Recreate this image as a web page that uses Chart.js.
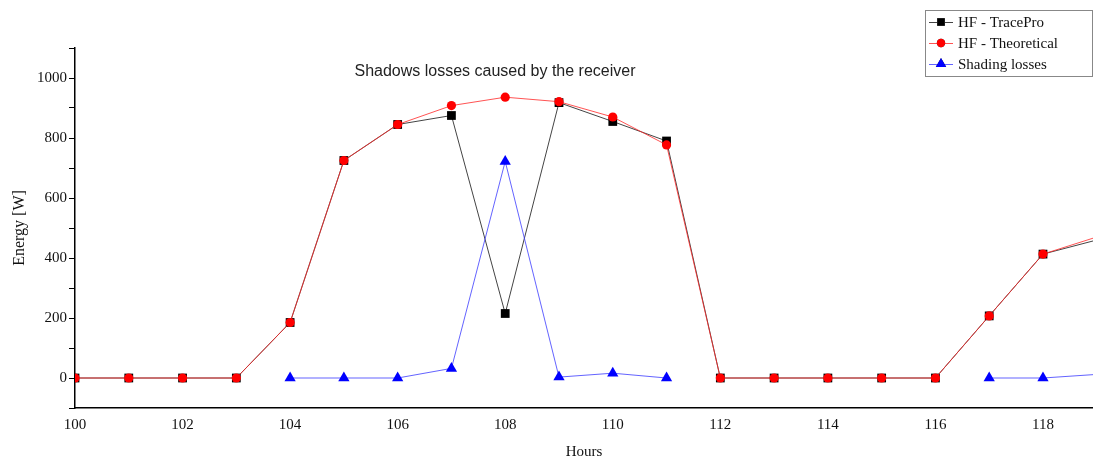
<!DOCTYPE html>
<html>
<head>
<meta charset="utf-8">
<script src="https://cdn.jsdelivr.net/npm/chart.js@4"></script>
<style>
  html, body { margin: 0; padding: 0; background: #fff; }
  #wrap { width: 1093px; height: 461px; position: relative; }
</style>
</head>
<body>
<div id="wrap"><canvas id="chart" width="1093" height="461"></canvas></div>
<script>
// hours on the x axis (120 is past the right edge, only the line into it shows)
const hours = [100, 101, 102, 103, 104, 105, 106, 107, 108, 109, 110, 111, 112, 113, 114, 115, 116, 117, 118, 120];
const tracePro = [0, 0, 0, 0, 185, 725, 845, 875, 215, 918, 855, 790, 0, 0, 0, 0, 0, 207, 413, 507];
const theoretical = [0, 0, 0, 0, 185, 725, 845, 908, 936, 921, 870, 777, 0, 0, 0, 0, 0, 207, 413, 527];
const shading = [null, null, null, null, 0, 0, 0, 32, 722, 3, 16, 0, null, null, null, null, null, 0, 0, 24];
const seriesNames = ["HF - TracePro", "HF - Theoretical", "Shading losses"];
const chartTitle = "Shadows losses caused by the receiver";
const xLabelEvery = 2;
const yLabelEvery = 200;

const serif = "'Liberation Serif', 'DejaVu Serif', serif";

function toPoints(values) {
    return hours.map((h, i) => ({ x: h, y: values[i] }));
}

const titlePlugin = {
    id: "innerTitle",
    afterDraw(chart) {
        const ctx = chart.ctx;
        ctx.save();
        ctx.font = "16px 'Liberation Sans', Arial, sans-serif";
        ctx.fillStyle = "#222";
        ctx.textAlign = "center";
        ctx.textBaseline = "middle";
        ctx.fillText(chartTitle, 495, 72);
        ctx.restore();
    }
};

const legendPlugin = {
    id: "boxLegend",
    afterDraw(chart) {
        const ctx = chart.ctx;
        const left = 925, top = 10, w = 168, h = 67;
        ctx.save();
        ctx.fillStyle = "#fff";
        ctx.fillRect(left, top, w, h);
        ctx.strokeStyle = "#888";
        ctx.lineWidth = 1;
        ctx.strokeRect(left + 0.5, top + 0.5, w - 1, h - 1);
        ctx.font = "15px " + serif;
        ctx.textBaseline = "middle";
        chart.data.datasets.forEach((ds, i) => {
            const y = top + 12 + i * 21;
            ctx.strokeStyle = ds.borderColor;
            ctx.lineWidth = 1;
            ctx.beginPath();
            ctx.moveTo(left + 4, y + 0.5);
            ctx.lineTo(left + 28, y + 0.5);
            ctx.stroke();
            Chart.helpers.drawPoint(ctx, {
                pointStyle: ds.pointStyle,
                radius: ds.legendRadius,
                rotation: 0,
                borderWidth: 0
            }, left + 16, y);
            ctx.fillStyle = ds.pointBackgroundColor;
            ctx.fill();
            ctx.fillStyle = "#111";
            ctx.fillText(ds.label, left + 33, y + 1);
        });
        ctx.restore();
    }
};

new Chart(document.getElementById("chart"), {
    type: "line",
    data: {
        datasets: [
            {
                label: seriesNames[0],
                data: toPoints(tracePro),
                borderColor: "#444",
                borderWidth: 1,
                pointStyle: "rect",
                pointRadius: 6.2,
                legendRadius: 5.5,
                pointBackgroundColor: "#000",
                pointBorderWidth: 0,
                order: 3
            },
            {
                label: seriesNames[1],
                data: toPoints(theoretical),
                borderColor: "rgba(255,40,40,0.8)",
                borderWidth: 1,
                pointStyle: "circle",
                pointRadius: 4.6,
                legendRadius: 4.2,
                pointBackgroundColor: "#f00",
                pointBorderWidth: 0,
                order: 2
            },
            {
                label: seriesNames[2],
                data: toPoints(shading),
                borderColor: "rgba(60,60,255,0.8)",
                borderWidth: 1,
                pointStyle: "triangle",
                pointRadius: 6.5,
                legendRadius: 6,
                pointBackgroundColor: "#00f",
                pointBorderWidth: 0,
                spanGaps: false,
                order: 1
            }
        ]
    },
    options: {
        responsive: false,
        animation: false,
        layout: { autoPadding: false, padding: { top: 48, right: 0, left: 0, bottom: 0 } },
        plugins: {
            legend: { display: false },
            title: { display: false },
            tooltip: { enabled: false }
        },
        elements: { line: { tension: 0 } },
        scales: {
            x: {
                type: "linear",
                min: 100,
                max: 118.93,
                border: { color: "#000", width: 1.5 },
                grid: { display: false, drawOnChartArea: false, drawTicks: true, tickLength: 6, tickColor: "#000" },
                ticks: {
                    stepSize: 1,
                    includeBounds: false,
                    autoSkip: false,
                    maxRotation: 0,
                    color: "#111",
                    font: { family: serif, size: 15 },
                    padding: 2,
                    callback: v => (v % xLabelEvery === 0 ? String(v) : "")
                },
                title: {
                    display: true,
                    text: "Hours",
                    color: "#111",
                    font: { family: serif, size: 15 },
                    padding: { top: 6, bottom: 0 }
                },
                afterFit(scale) {
                    scale.height = 53;
                    scale.paddingRight = 0;
                    scale.paddingLeft = 0;
                }
            },
            y: {
                min: -100,
                max: 1100,
                border: { color: "#000", width: 1.5 },
                grid: { display: true, drawOnChartArea: false, drawTicks: true, tickLength: 6, tickColor: "#000" },
                ticks: {
                    stepSize: 100,
                    autoSkip: false,
                    color: "#111",
                    font: { family: serif, size: 15 },
                    padding: 2,
                    callback: v => (v % yLabelEvery === 0 && v >= 0 && v <= 1000 ? String(v) : "")
                },
                title: {
                    display: true,
                    text: "Energy [W]",
                    color: "#111",
                    font: { family: serif, size: 16 },
                    padding: { top: 10, bottom: 0 }
                },
                afterFit(scale) {
                    scale.width = 75;
                    scale.paddingTop = 0;
                    scale.paddingBottom = 0;
                }
            }
        }
    },
    plugins: [titlePlugin, legendPlugin]
});
</script>
</body>
</html>
